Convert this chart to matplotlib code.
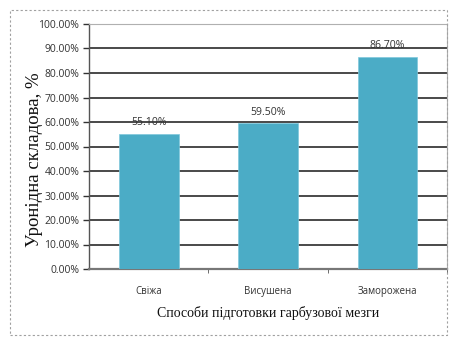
import matplotlib
matplotlib.use("Agg")
import matplotlib.pyplot as plt
from matplotlib.patches import Rectangle
from matplotlib.ticker import FuncFormatter

categories = ["Свіжа", "Висушена", "Заморожена"]
values = [55.10, 59.50, 86.70]
y_ticks = [0, 10, 20, 30, 40, 50, 60, 70, 80, 90, 100]

W, H = 450, 339
fig = plt.figure(figsize=(W / 100, H / 100), dpi=100)
fig.patch.set_facecolor("white")

# outer dashed frame of the chart
fig.patches.append(Rectangle((10 / W, 1 - 335 / H), (447 - 10) / W, (335 - 10) / H,
                             transform=fig.transFigure, fill=False,
                             edgecolor="#a0a0a0", linewidth=0.8, linestyle=(0, (2, 2))))

left, right, top, bottom = 89, 447, 24, 269
ax = fig.add_axes([left / W, 1 - bottom / H, (right - left) / W, (bottom - top) / H])

x = list(range(len(categories)))
bars = ax.bar(x, values, width=0.5, color="#4bacc6", edgecolor="#7fc8dc",
              linewidth=0.5, zorder=3)

ax.set_xlim(-0.5, len(categories) - 0.5)
ax.set_ylim(0, 100)
ax.set_yticks(y_ticks)
ax.yaxis.set_major_formatter(FuncFormatter(lambda v, p: f"{v:.2f}%"))
ax.yaxis.grid(True, color="#3a3a3a", linewidth=1.3, zorder=1)
ax.set_axisbelow(True)

ax.set_xticks(x)
ax.set_xticklabels(categories)
ax.set_xticks([0.5, 1.5, 2.5], minor=True)
ax.tick_params(axis="x", which="major", length=0, pad=12,
               labelsize=6.9, labelcolor="#333333")
ax.tick_params(axis="x", which="minor", length=3, color="#555555")
ax.tick_params(axis="y", length=4, width=1.0, color="#333333",
               labelsize=7.5, labelcolor="#333333", pad=3)
for lbl in ax.get_xticklabels() + ax.get_yticklabels():
    lbl.set_family("Open Sans")

for s in ("top", "right"):
    ax.spines[s].set_color("#b0b0b0")
    ax.spines[s].set_linestyle((0, (1, 1)))
    ax.spines[s].set_linewidth(0.8)
ax.spines["left"].set_color("#555555")
ax.spines["left"].set_linewidth(1.0)
ax.spines["bottom"].set_color("#777777")
ax.spines["bottom"].set_linewidth(1.6)

for b, v in zip(bars, values):
    ax.annotate(f"{v:.2f}%", (b.get_x() + b.get_width() / 2, v),
                xytext=(0, 4), textcoords="offset points",
                ha="center", va="bottom", fontsize=7.6,
                color="#333333", family="Open Sans", zorder=4)

fig.text(35 / W, 1 - 160 / H, "Уронідна складова, %", rotation=90,
         ha="center", va="center", fontsize=13.5, family="Liberation Serif",
         color="#111111")
fig.text(268 / W, 1 - 313 / H, "Способи підготовки гарбузової мезги",
         ha="center", va="center", fontsize=10, family="Liberation Serif",
         color="#111111")

fig.savefig("out.png", dpi=100, facecolor="white")
